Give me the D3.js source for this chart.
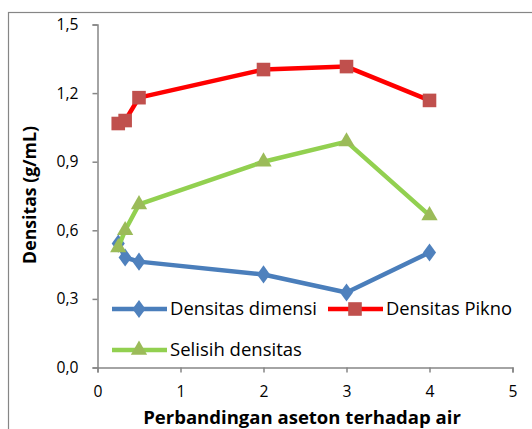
<!DOCTYPE html>
<html><head><meta charset="utf-8">
<script src="https://cdn.jsdelivr.net/npm/d3@7"></script>
<style>body{margin:0;background:#fff}svg{display:block}</style>
</head><body>
<script>
const xValues = [0.25, 0.333, 0.5, 2, 3, 4];
const densitasDimensi = [0.542, 0.481, 0.463, 0.407, 0.328, 0.503];
const densitasPikno = [1.067, 1.08, 1.18, 1.303, 1.316, 1.168];
const selisihDensitas = [0.525, 0.60, 0.713, 0.900, 0.988, 0.665];
const yTicks = [0, 0.3, 0.6, 0.9, 1.2, 1.5];
const xTicks = [0, 1, 2, 3, 4, 5];
const seriesNames = ["Densitas dimensi", "Densitas Pikno", "Selisih densitas"];

const W = 532, H = 429;
const font = "'Open Sans', sans-serif";
const svg = d3.select("body").append("svg").attr("width", W).attr("height", H);

function fitWidth(sel, target) {
  const n = sel.node();
  const fs = parseFloat(sel.attr("font-size"));
  const w = n.getComputedTextLength();
  if (w > 0) sel.attr("font-size", fs * target / w);
}

// chart border (only left/top visible)
svg.append("rect").attr("x", 8.5).attr("y", 12.5).attr("width", 600).attr("height", 600)
  .attr("fill", "none").attr("stroke", "#868686").attr("stroke-width", 1.2);

const x = d3.scaleLinear().domain([0, 5]).range([97.5, 512.5]);
const y = d3.scaleLinear().domain([0, 1.5]).range([367.5, 24.5]);

const fmt = d => d.toFixed(1).replace(".", ",");

const gy = svg.append("g").attr("transform", `translate(${x(0)},0)`)
  .call(d3.axisLeft(y).tickValues(yTicks).tickFormat(fmt).tickSizeOuter(0).tickSize(5).tickPadding(14));
const gx = svg.append("g").attr("transform", `translate(0,${y(0)})`)
  .call(d3.axisBottom(x).tickValues(xTicks).tickFormat(d => d).tickSizeOuter(0).tickSize(5).tickPadding(13));
[gy, gx].forEach(g => {
  g.selectAll("path,line").attr("stroke", "#868686").attr("stroke-width", 1.5);
  g.selectAll("text").attr("font-family", font).attr("font-size", 16).attr("fill", "#000");
});
{
  const t = gy.selectAll("text").filter(d => d === 1.5);
  const w = t.node().getComputedTextLength();
  const fs = 16 * 22 / w;
  gy.selectAll("text").attr("font-size", fs);
  gx.selectAll("text").attr("font-size", fs);
}

const xt = svg.append("text").attr("x", 302).attr("y", 424).attr("text-anchor", "middle")
  .attr("font-family", font).attr("font-weight", "bold").attr("font-size", 15)
  .text("Perbandingan aseton terhadap air");
fitWidth(xt, 318);
const yt = svg.append("text").attr("transform", "translate(36,195) rotate(-90)").attr("text-anchor", "middle")
  .attr("font-family", font).attr("font-weight", "bold").attr("font-size", 15)
  .text("Densitas (g/mL)");
fitWidth(yt, 138);

const series = [
  {name: seriesNames[0], vals: densitasDimensi, line: "#4A7EBB", mark: "#4F81BD", sym: d3.symbolDiamond, size: 95},
  {name: seriesNames[1], vals: densitasPikno, line: "#FF0000", mark: "#C0504D", sym: d3.symbolSquare, size: 185},
  {name: seriesNames[2], vals: selisihDensitas, line: "#92D050", mark: "#9BBB59", sym: d3.symbolTriangle, size: 115}
];

const line = d3.line().x(d => x(d[0])).y(d => y(d[1]));
series.forEach(s => {
  const pts = xValues.map((xv, i) => [xv, s.vals[i]]);
  svg.append("path").datum(pts).attr("d", line).attr("fill", "none")
    .attr("stroke", s.line).attr("stroke-width", 4.5).attr("stroke-linejoin", "round");
  svg.selectAll(null).data(pts).enter().append("path")
    .attr("d", d3.symbol().type(s.sym).size(s.size))
    .attr("transform", d => `translate(${x(d[0])},${y(d[1])})${s.sym === d3.symbolDiamond ? " scale(1.25,1)" : ""}`)
    .attr("fill", s.mark);
});

// legend
const leg = [
  {s: series[0], lx: 112, ly: 309, w: 147},
  {s: series[1], lx: 328, ly: 309, w: 126},
  {s: series[2], lx: 112, ly: 350, w: 132}
];
leg.forEach(l => {
  const g = svg.append("g").attr("transform", `translate(${l.lx},${l.ly})`);
  g.append("line").attr("x1", 0).attr("x2", 55).attr("stroke", l.s.line).attr("stroke-width", 4.5);
  g.append("path").attr("d", d3.symbol().type(l.s.sym).size(l.s.size))
    .attr("transform", `translate(27,0)${l.s.sym === d3.symbolDiamond ? " scale(1.25,1)" : ""}`).attr("fill", l.s.mark);
  const t = g.append("text").attr("x", 58).attr("y", 6).attr("font-family", font).attr("font-size", 16)
    .text(l.s.name);
  fitWidth(t, l.w);
});
</script>
</body></html>
